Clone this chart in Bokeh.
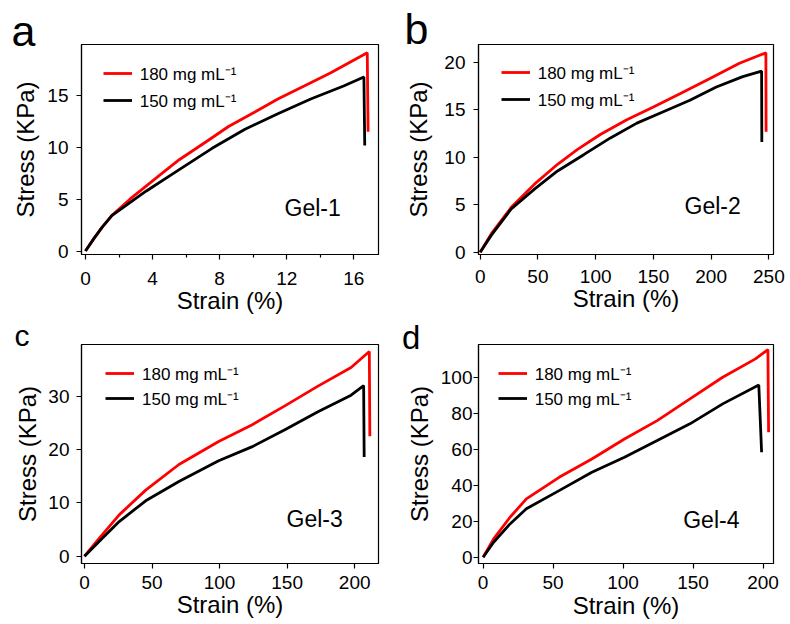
from bokeh.plotting import figure
from bokeh.layouts import gridplot
from bokeh.models import Range1d, FixedTicker, Legend, LegendItem, Label
from bokeh.embed import file_html
from bokeh.resources import INLINE

FONT = "Liberation Sans"
RED = "#ff0000"
BLACK = "#000000"

# ---------------- text ----------------
series_labels = ["180 mg mL\u207b\u00b9", "150 mg mL\u207b\u00b9"]
panel_letters = ["a", "b", "c", "d"]
gel_names = ["Gel-1", "Gel-2", "Gel-3", "Gel-4"]
x_title = "Strain (%)"
y_title = "Stress (KPa)"

# ---------------- data ----------------
# Gel-1
gel1_strain_180 = [0, 0.5, 1.0, 1.57, 2.65, 4.41, 5.59, 7.35, 8.53, 10.1, 11.47, 13.04, 14.6, 16.8, 16.85]
gel1_stress_180 = [0, 1.2, 2.3, 3.42, 5.0, 7.3, 8.8, 10.7, 12.0, 13.4, 14.65, 15.9, 17.15, 19.1, 11.5]
gel1_strain_150 = [0, 0.5, 1.0, 1.57, 3.63, 5.59, 7.55, 9.51, 11.47, 13.43, 15.39, 16.6, 16.65]
gel1_stress_150 = [0, 1.2, 2.3, 3.42, 5.79, 7.85, 9.9, 11.74, 13.23, 14.65, 15.9, 16.77, 10.16]
# Gel-2
gel2_strain_180 = [0, 9.7, 26.9, 47, 67, 84, 104, 127, 150, 173, 199, 224.5, 247.4, 247.6]
gel2_stress_180 = [0, 1.95, 4.73, 7.17, 9.26, 10.8, 12.4, 13.95, 15.3, 16.7, 18.3, 19.9, 21.0, 12.7]
gel2_strain_150 = [0, 9.7, 26.9, 47, 67, 90, 112.8, 135.7, 158.6, 181.6, 204.5, 227.4, 243.7, 243.9]
gel2_stress_150 = [0, 1.8, 4.56, 6.65, 8.56, 10.3, 12.04, 13.6, 14.8, 16.0, 17.4, 18.5, 19.07, 11.6]
# Gel-3
gel3_strain_180 = [0, 11, 25.7, 45.3, 69.9, 99.3, 123.8, 148.3, 172.8, 197.3, 210.8, 211.2]
gel3_stress_180 = [0, 3.4, 7.76, 12.4, 17.2, 21.5, 24.6, 28.2, 31.9, 35.4, 38.4, 22.5]
gel3_strain_150 = [0, 11, 25.7, 45.3, 69.9, 99.3, 123.8, 148.3, 172.8, 197.3, 206.6, 207.0]
gel3_stress_150 = [0, 2.8, 6.5, 10.4, 14.0, 17.9, 20.5, 23.7, 27.1, 30.2, 32.0, 18.6]
# Gel-4
gel4_strain_180 = [0, 7.5, 19.2, 30.9, 54.3, 77.7, 101, 124.4, 147.8, 171.2, 194.6, 203.5, 204.0]
gel4_stress_180 = [0, 10.2, 22.2, 32.4, 44.4, 54.6, 65.7, 75.9, 88, 100, 110.2, 115.4, 69.4]
gel4_strain_150 = [0, 7.5, 19.2, 30.9, 54.3, 77.7, 101, 124.4, 147.8, 171.2, 197, 199]
gel4_stress_150 = [0, 8.3, 18.5, 26.9, 37, 47.2, 55.6, 64.8, 74.1, 85.2, 95.7, 58.3]

# ---------------- ticks ----------------
gel1_xticks = [0, 4, 8, 12, 16]
gel1_xminor = [2, 6, 10, 14]
gel1_yticks = [0, 5, 10, 15]
gel2_xticks = [0, 50, 100, 150, 200, 250]
gel2_yticks = [0, 5, 10, 15, 20]
gel3_xticks = [0, 50, 100, 150, 200]
gel3_yticks = [0, 10, 20, 30]
gel4_xticks = [0, 50, 100, 150, 200]
gel4_yticks = [0, 20, 40, 60, 80, 100]

data = [
    (gel1_strain_180, gel1_stress_180, gel1_strain_150, gel1_stress_150),
    (gel2_strain_180, gel2_stress_180, gel2_strain_150, gel2_stress_150),
    (gel3_strain_180, gel3_stress_180, gel3_strain_150, gel3_stress_150),
    (gel4_strain_180, gel4_stress_180, gel4_strain_150, gel4_stress_150),
]
ticks = [
    (gel1_xticks, gel1_xminor, gel1_yticks),
    (gel2_xticks, [], gel2_yticks),
    (gel3_xticks, [], gel3_yticks),
    (gel4_xticks, [], gel4_yticks),
]

# ---------------- layout / style per panel ----------------
layout = [
    dict(w=395, h=318, bl=81, br=14, bt=41, bb=64, xr=(-0.236, 17.47), yr=(-0.33, 19.9),
         xls=12, xals=-1, yls=8, yals=5, leg=(21.7, 142.5), sp=4,
         gel=(203, 46.5), let_off=-70, let_so=-20, letsize="43px"),
    dict(w=395, h=318, bl=80, br=17, bt=44, bb=62, xr=(-1.46, 254.0), yr=(-0.24, 21.88),
         xls=10, xals=-1, yls=8, yals=9, leg=(22.7, 143.2), sp=4,
         gel=(206, 48.2), let_off=-74, let_so=-16, letsize="43px"),
    dict(w=395, h=306, bl=79, br=17, bt=26, bb=60, xr=(-2.2, 217.6), yr=(-1.36, 39.7),
         xls=7, xals=-1, yls=7, yals=4, leg=(24, 153.5), sp=2,
         gel=(205, 45), let_off=-67, let_so=-15, letsize="30px"),
    dict(w=395, h=306, bl=83, br=11, bt=26, bb=61, xr=(-3.3, 207.5), yr=(-3.5, 118.2),
         xls=7, xals=0, yls=1, yals=5, leg=(19.7, 153.2), sp=2,
         gel=(204.7, 44), let_off=-76.5, let_so=-22, letsize="33px"),
]


def make_panel(i):
    L = layout[i]
    xs180, ys180, xs150, ys150 = data[i]
    xt, xmt, yt = ticks[i]
    p = figure(width=L["w"], height=L["h"], output_backend="svg", toolbar_location=None,
               x_range=Range1d(*L["xr"]), y_range=Range1d(*L["yr"]),
               min_border_left=L["bl"], min_border_right=L["br"],
               min_border_top=L["bt"], min_border_bottom=L["bb"])
    p.background_fill_color = "white"
    p.border_fill_color = "white"
    p.outline_line_color = "black"
    p.outline_line_width = 1.2
    p.xgrid.visible = False
    p.ygrid.visible = False

    # panel letter as the figure title, pulled out to the left edge
    p.title.text = panel_letters[i]
    p.title.align = "left"
    p.title.offset = L["let_off"]
    p.title.standoff = L["let_so"]
    p.title.vertical_align = "bottom"
    p.title.text_font = FONT
    p.title.text_font_size = L["letsize"]
    p.title.text_font_style = "normal"
    p.title.text_color = "black"

    r180 = p.line(xs180, ys180, line_color=RED, line_width=2.8)
    r150 = p.line(xs150, ys150, line_color=BLACK, line_width=2.8)

    p.xaxis.ticker = FixedTicker(ticks=xt, minor_ticks=xmt)
    p.yaxis.ticker = FixedTicker(ticks=yt, minor_ticks=[])
    for ax in (p.xaxis, p.yaxis):
        ax.axis_line_color = "black"
        ax.axis_line_width = 1.2
        ax.major_tick_line_color = "black"
        ax.major_tick_line_width = 1.2
        ax.major_tick_in = 0
        ax.major_tick_out = 5
        ax.minor_tick_line_color = "black"
        ax.minor_tick_line_width = 1.2
        ax.minor_tick_in = 0
        ax.minor_tick_out = 3
        ax.major_label_text_font = FONT
        ax.major_label_text_font_size = "19px"
        ax.major_label_text_color = "black"
        ax.axis_label_text_font = FONT
        ax.axis_label_text_font_size = "24px"
        ax.axis_label_text_font_style = "normal"
        ax.axis_label_text_color = "black"
    p.xaxis.axis_label = x_title
    p.yaxis.axis_label = y_title
    p.xaxis.major_label_standoff = L["xls"]
    p.xaxis.axis_label_standoff = L["xals"]
    p.yaxis.major_label_standoff = L["yls"]
    p.yaxis.axis_label_standoff = L["yals"]

    legend = Legend(
        items=[LegendItem(label=series_labels[0], renderers=[r180]),
               LegendItem(label=series_labels[1], renderers=[r150])],
        location=L["leg"], orientation="vertical",
        background_fill_alpha=0, border_line_alpha=0,
        padding=0, margin=0, spacing=L["sp"],
        glyph_width=29, glyph_height=20, label_height=20, label_standoff=8,
        label_text_font=FONT, label_text_font_size="17px", label_text_color="black",
    )
    p.add_layout(legend)

    p.add_layout(Label(x=L["gel"][0], y=L["gel"][1], x_units="screen", y_units="screen",
                       text=gel_names[i], text_font=FONT, text_font_size="23px",
                       text_color="black", text_baseline="middle", text_align="left"))
    return p


panels = [make_panel(i) for i in range(4)]
grid = gridplot([[panels[0], panels[1]], [panels[2], panels[3]]], toolbar_location=None)

open("out.html", "w").write(file_html(grid, INLINE))
